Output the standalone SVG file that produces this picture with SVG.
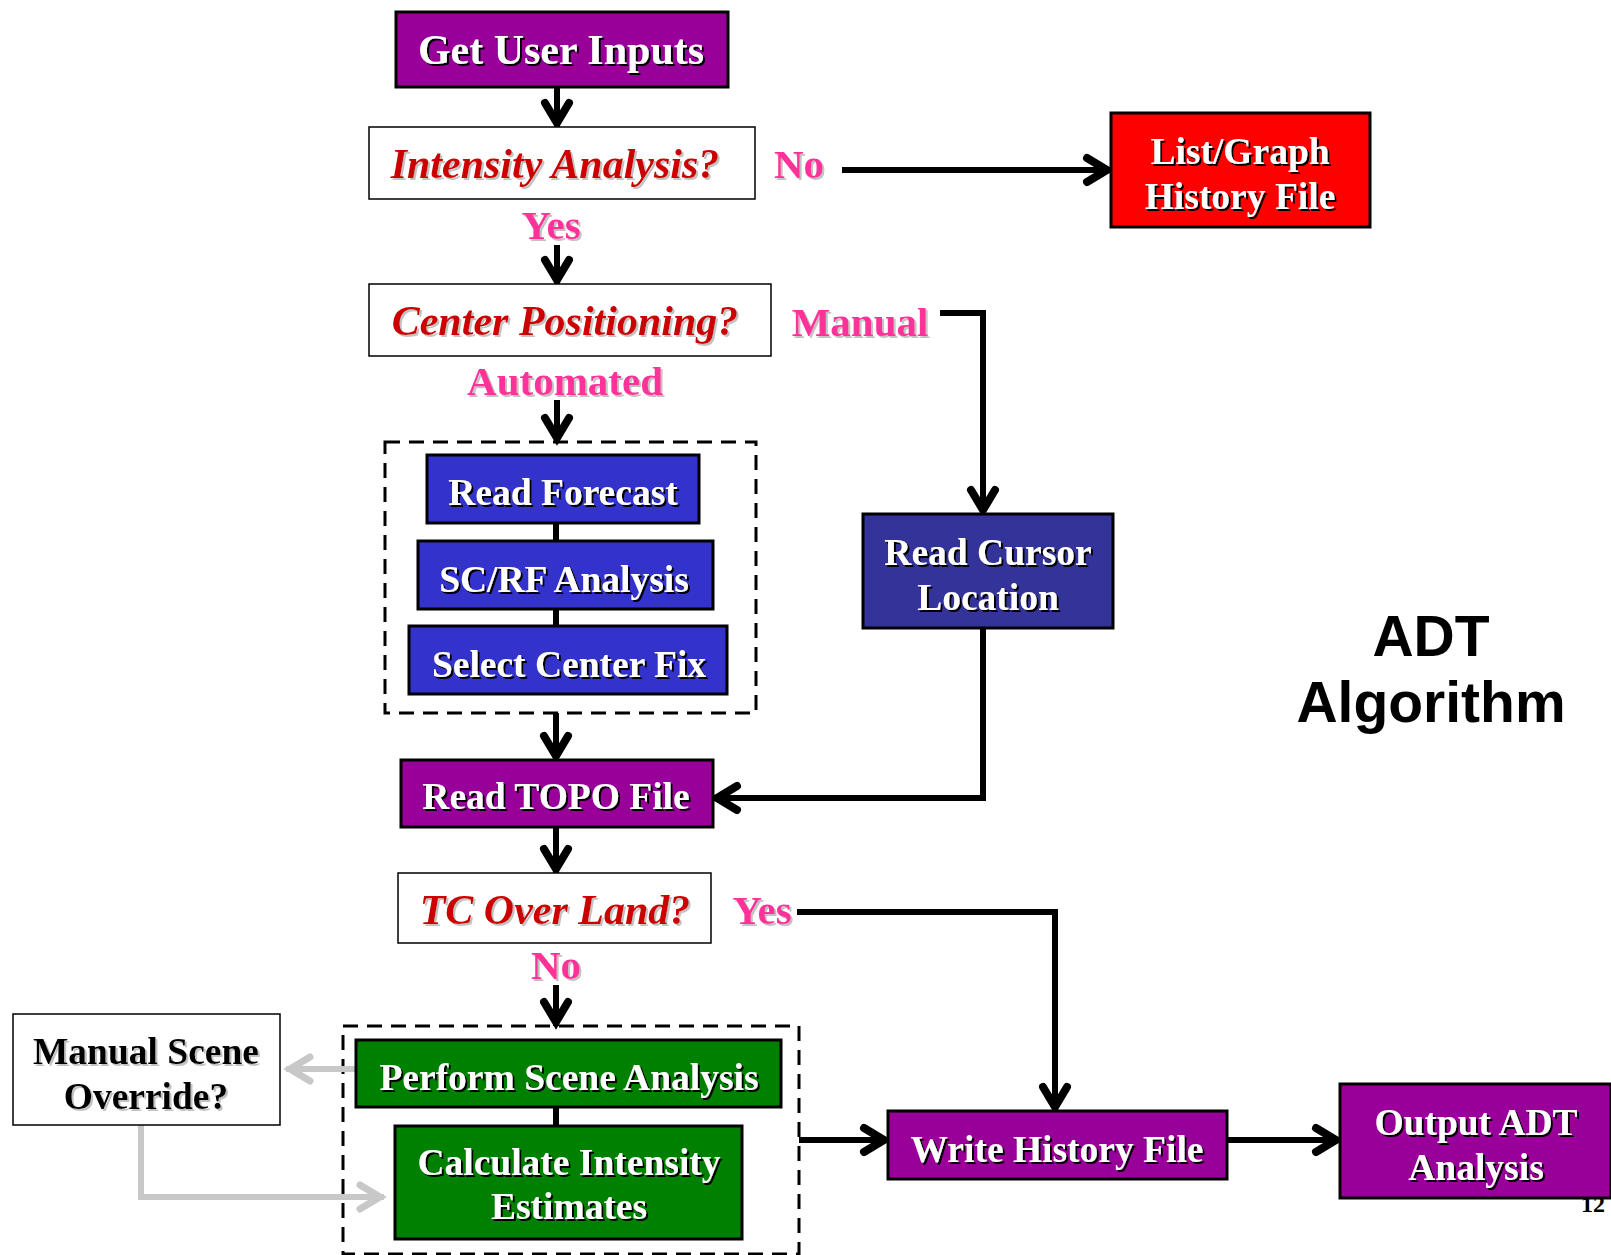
<svg xmlns="http://www.w3.org/2000/svg" width="1611" height="1255" viewBox="0 0 1611 1255">
  <defs>
    <style>
      .box { stroke: #000; stroke-width: 3; }
      .qbox { fill: #fff; stroke: #000; stroke-width: 1.5; }
      .purple { fill: #990099; }
      .red { fill: #ff0000; }
      .blue { fill: #3333cc; }
      .navy { fill: #333399; }
      .green { fill: #008000; }
      .group { fill: none; stroke: #000; stroke-width: 3; stroke-dasharray: 15 9; }
      .t { font-family: "Liberation Serif", "Times New Roman", serif; font-weight: bold; text-anchor: middle; }
      .w { fill: #fff; font-size: 37.5px; filter: url(#shadowDark); }
      .q { fill: #cc0000; font-style: italic; font-size: 42px; filter: url(#shadowLight); }
      .lbl { fill: #ff3399; font-size: 41px; filter: url(#shadowLight); }
      .k { fill: #000; font-size: 37.5px; filter: url(#shadowLight); }
      .title { font-family: "Liberation Sans", Arial, sans-serif; font-weight: bold; font-size: 57px; fill: #000; text-anchor: middle; }
      .edge { fill: none; stroke: #000; stroke-width: 6; marker-end: url(#arrow); }
      .link { fill: none; stroke: #000; stroke-width: 6; }
      .grey { fill: none; stroke: #c8c8c8; stroke-width: 6; marker-end: url(#arrowGrey); }
    </style>
    <filter id="shadowDark" x="-5%" y="-20%" width="115%" height="150%">
      <feDropShadow dx="2" dy="2" stdDeviation="0.4" flood-color="#000" flood-opacity="1"/>
    </filter>
    <filter id="shadowLight" x="-5%" y="-20%" width="115%" height="150%">
      <feDropShadow dx="2" dy="2" stdDeviation="0.4" flood-color="#999" flood-opacity="0.6"/>
    </filter>
    <marker id="arrow" viewBox="-32 -20 38 40" refX="0" refY="0" markerWidth="38" markerHeight="40" markerUnits="userSpaceOnUse" orient="auto">
      <path d="M-24,-12 L-4,0 L-24,12" fill="none" stroke="#000" stroke-width="8" stroke-linecap="round" stroke-linejoin="miter"/>
    </marker>
    <marker id="arrowGrey" viewBox="-32 -20 38 40" refX="0" refY="0" markerWidth="38" markerHeight="40" markerUnits="userSpaceOnUse" orient="auto">
      <path d="M-24,-12 L-4,0 L-24,12" fill="none" stroke="#c8c8c8" stroke-width="7" stroke-linecap="round" stroke-linejoin="miter"/>
    </marker>
  </defs>

  <rect width="1611" height="1255" fill="#fff"/>

  <!-- page number, partly covered by the output box -->
  <text x="1593" y="1212" class="t" style="font-size:24px;fill:#000">12</text>

  <!-- dashed groupings -->
  <rect id="centerGroup" class="group" x="385" y="442" width="371" height="271"/>
  <rect id="sceneGroup" class="group" x="343" y="1026" width="456" height="228"/>

  <!-- connectors -->
  <g id="connectors">
    <path class="edge" d="M557,87 V127"/>
    <path class="edge" d="M557,245 V284"/>
    <path class="edge" d="M842,170 H1111"/>
    <path class="edge" d="M940,313 H983 V514"/>
    <path class="edge" d="M557,400 V442"/>
    <path class="link" d="M556,523 V541"/>
    <path class="link" d="M556,609 V626"/>
    <path class="edge" d="M556,713 V760"/>
    <path class="edge" d="M983,628 V798 H713"/>
    <path class="edge" d="M556,827 V873"/>
    <path class="edge" d="M797,912 H1055 V1111"/>
    <path class="edge" d="M556,985 V1026"/>
    <path class="link" d="M556,1107 V1126"/>
    <path class="edge" d="M799,1140 H888"/>
    <path class="edge" d="M1227,1140 H1340"/>
    <path class="grey" d="M356,1069 H286"/>
    <path class="grey" d="M141,1125 V1197 H384"/>
  </g>

  <!-- branch labels -->
  <g id="labels">
    <text class="t lbl" x="799" y="178">No</text>
    <text class="t lbl" x="551" y="239">Yes</text>
    <text class="t lbl" x="860" y="336">Manual</text>
    <text class="t lbl" x="565" y="395">Automated</text>
    <text class="t lbl" x="762" y="924">Yes</text>
    <text class="t lbl" x="556" y="979">No</text>
  </g>

  <g id="getUserInputs">
    <rect class="box purple" x="396" y="12" width="332" height="75"/>
    <text class="t w" x="561" y="64" style="font-size:42px">Get User Inputs</text>
  </g>

  <g id="intensityAnalysis">
    <rect class="qbox" x="369" y="127" width="386" height="72"/>
    <text class="t q" x="555" y="178">Intensity Analysis?</text>
  </g>

  <g id="listGraph">
    <rect class="box red" x="1111" y="113" width="259" height="114"/>
    <text class="t w" x="1240" y="164">List/Graph</text>
    <text class="t w" x="1240" y="209">History File</text>
  </g>

  <g id="centerPositioning">
    <rect class="qbox" x="369" y="284" width="402" height="72"/>
    <text class="t q" x="565" y="335">Center Positioning?</text>
  </g>

  <g id="readForecast">
    <rect class="box blue" x="427" y="455" width="272" height="68"/>
    <text class="t w" x="563" y="505">Read Forecast</text>
  </g>

  <g id="scrfAnalysis">
    <rect class="box blue" x="418" y="541" width="295" height="68"/>
    <text class="t w" x="564" y="592">SC/RF Analysis</text>
  </g>

  <g id="selectCenterFix">
    <rect class="box blue" x="409" y="626" width="318" height="68"/>
    <text class="t w" x="569" y="677">Select Center Fix</text>
  </g>

  <g id="readCursor">
    <rect class="box navy" x="863" y="514" width="250" height="114"/>
    <text class="t w" x="988" y="565">Read Cursor</text>
    <text class="t w" x="988" y="610">Location</text>
  </g>

  <g id="readTopo">
    <rect class="box purple" x="401" y="760" width="312" height="67"/>
    <text class="t w" x="556" y="809">Read TOPO File</text>
  </g>

  <g id="tcOverLand">
    <rect class="qbox" x="398" y="873" width="313" height="70"/>
    <text class="t q" x="555" y="924">TC Over Land?</text>
  </g>

  <g id="manualScene">
    <rect class="qbox" x="13" y="1014" width="267" height="111"/>
    <text class="t k" x="146" y="1064">Manual Scene</text>
    <text class="t k" x="146" y="1109">Override?</text>
  </g>

  <g id="performScene">
    <rect class="box green" x="356" y="1040" width="425" height="67"/>
    <text class="t w" x="569" y="1090">Perform Scene Analysis</text>
  </g>

  <g id="calcIntensity">
    <rect class="box green" x="395" y="1126" width="347" height="113"/>
    <text class="t w" x="569" y="1175">Calculate Intensity</text>
    <text class="t w" x="569" y="1219">Estimates</text>
  </g>

  <g id="writeHistory">
    <rect class="box purple" x="888" y="1111" width="339" height="68"/>
    <text class="t w" x="1057" y="1162">Write History File</text>
  </g>

  <g id="outputAdt">
    <rect class="box purple" x="1340" y="1084" width="271" height="114"/>
    <text class="t w" x="1476" y="1135">Output ADT</text>
    <text class="t w" x="1476" y="1180">Analysis</text>
  </g>

  <!-- heading -->
  <text class="title" x="1431" y="656">ADT</text>
  <text class="title" x="1431" y="722">Algorithm</text>
</svg>
